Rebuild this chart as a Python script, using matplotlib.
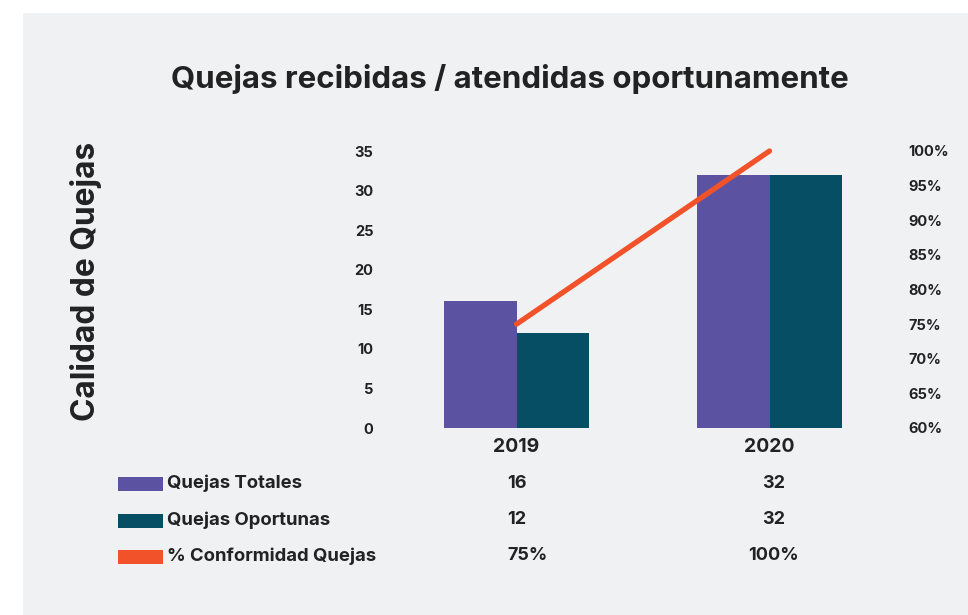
import numpy as np
import matplotlib.pyplot as plt
import matplotlib.transforms as mtransforms
from matplotlib.patches import Rectangle

plt.rcParams['font.family'] = ['Inter', 'DejaVu Sans']

# data
years = ['2019', '2020']
quejas_totales = [16, 32]
quejas_oportunas = [12, 32]
conformidad = [75, 100]  # %
series_names = ['Quejas Totales', 'Quejas Oportunas', '% Conformidad Quejas']

purple = '#5b53a1'
teal = '#064e64'
orange = '#f15229'
txt = '#222222'
panel = '#f0f1f3'

W, H = 968, 615
fig = plt.figure(figsize=(W / 100, H / 100), dpi=100)
fig.patch.set_facecolor('white')
# grey panel behind everything
fig.patches.append(Rectangle((23 / W, 0), 1, 1 - 13 / H, transform=fig.transFigure,
                             facecolor=panel, edgecolor='none', zorder=-5))

ax = fig.add_axes([390 / W, (H - 428) / H, 506 / W, 277 / H])
ax.patch.set_alpha(0)
x = np.arange(len(years))
w = 0.285
ax.bar(x - w / 2, quejas_totales, w, color=purple, zorder=2)
ax.bar(x + w / 2, quejas_oportunas, w, color=teal, zorder=2)
ax.set_xlim(-0.5, 1.5)
ax.set_ylim(0, 35)
ax.set_yticks(range(0, 36, 5))
ax.set_xticks(x)
ax.set_xticklabels(years, fontsize=14, fontweight='bold', color=txt)
ax.tick_params(axis='x', length=0, pad=7)
ax.tick_params(axis='y', length=0, pad=12, labelsize=10.5, labelcolor=txt)
for lab in ax.get_yticklabels():
    lab.set_fontweight('bold')
for s in ax.spines.values():
    s.set_visible(False)

ax2 = ax.twinx()
ax2.plot(x, conformidad, color=orange, lw=3.8, solid_capstyle='round', zorder=3, clip_on=False)
ax2.set_ylim(60, 100)
ax2.set_yticks(range(60, 101, 5))
ax2.set_yticklabels([f'{v}%' for v in range(60, 101, 5)])
ax2.tick_params(axis='y', length=0, pad=9, labelsize=10.5, labelcolor=txt)
for lab in ax2.get_yticklabels():
    lab.set_fontweight('bold')
for s in ax2.spines.values():
    s.set_visible(False)

fig.text(510 / W, 1 - 79 / H, 'Quejas recibidas / atendidas oportunamente',
         ha='center', va='center', fontsize=22.5, fontweight='bold', color=txt)
fig.text(86 / W, 1 - 281 / H, 'Calidad de Quejas', rotation=90,
         ha='center', va='center', fontsize=22.8, fontweight='bold', color=txt)

# data table under the chart
trans = mtransforms.blended_transform_factory(ax.transData, fig.transFigure)
rows = [
    (series_names[0], purple, [str(v) for v in quejas_totales]),
    (series_names[1], teal, [str(v) for v in quejas_oportunas]),
    (series_names[2], orange, [f'{v}%' for v in conformidad]),
]
row_y = [483, 520, 556]
for (name, col, vals), yy in zip(rows, row_y):
    yf = 1 - yy / H
    fig.patches.append(Rectangle((118 / W, yf - 8 / H), 45 / W, 14 / H, transform=fig.transFigure,
                                 facecolor=col, edgecolor='none'))
    fig.text(167 / W, yf, name, ha='left', va='center', fontsize=13.3, fontweight='bold', color=txt)
    ax.text(x[0] - 0.037, yf, vals[0], transform=trans, ha='left', va='center',
            fontsize=13, fontweight='bold', color=txt)
    ax.text(x[1] + 0.015, yf, vals[1], transform=trans, ha='center', va='center',
            fontsize=13, fontweight='bold', color=txt)

fig.savefig('out.png', dpi=100)
